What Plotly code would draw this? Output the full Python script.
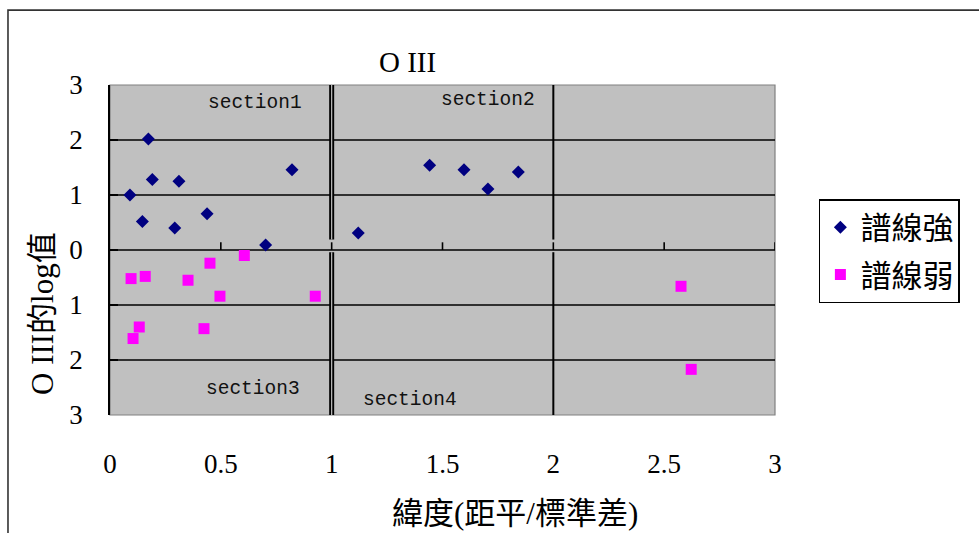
import plotly.graph_objects as go

# Strong-line stars (譜線強)
strong_x = [0.090, 0.146, 0.173, 0.191, 0.292, 0.311, 0.438, 0.702, 0.821, 1.120, 1.442, 1.597, 1.705, 1.842]
strong_y = [1.00, 0.52, 2.02, 1.28, 0.40, 1.25, 0.66, 0.09, 1.46, 0.31, 1.54, 1.46, 1.11, 1.42]

# Weak-line stars (譜線弱)
weak_x = [0.095, 0.159, 0.352, 0.451, 0.606, 0.496, 0.926, 0.132, 0.104, 0.424, 2.576, 2.622]
weak_y = [-0.52, -0.48, -0.55, -0.24, -0.10, -0.84, -0.84, -1.40, -1.61, -1.43, -0.66, -2.17]

y_ticks = [-3, -2, -1, 0, 1, 2, 3]
y_tick_text = [str(abs(v)) for v in y_ticks]
x_ticks = [0, 0.5, 1, 1.5, 2, 2.5, 3]
x_tick_text = ["0", "0.5", "1", "1.5", "2", "2.5", "3"]
grid_levels = [-2, -1, 1, 2]
section_dividers = [1, 2]

section_names = ["section1", "section2", "section3", "section4"]
section_x = [0.655, 1.704, 0.643, 1.354]
section_y = [2.67, 2.72, -2.53, -2.72]

SERIF = "Liberation Serif, Noto Sans CJK TC"
CJK = "Noto Sans CJK TC"

fig = go.Figure()
fig.add_trace(go.Scatter(
    x=strong_x, y=strong_y, mode="markers", name="譜線強", legendgroup="a",
    marker=dict(symbol="diamond", size=10, color="#000080", line=dict(width=0)),
))
fig.add_trace(go.Scatter(
    x=weak_x, y=weak_y, mode="markers", name="譜線弱", legendgroup="b",
    marker=dict(symbol="square", size=11, color="#FF00FF", line=dict(width=0)),
))

shapes = []
# horizontal grid lines
for lv in grid_levels:
    shapes.append(dict(type="line", xref="x", yref="y", x0=0, x1=3, y0=lv, y1=lv,
                       line=dict(color="black", width=1.6), layer="below"))
# zero axis line with upward tick marks
shapes.append(dict(type="line", xref="x", yref="y", x0=0, x1=3, y0=0, y1=0,
                   line=dict(color="black", width=1.6), layer="below"))
for tv in x_ticks[1:]:
    shapes.append(dict(type="line", xref="x", yref="y", x0=tv, x1=tv, y0=0, y1=0.14,
                       line=dict(color="black", width=1.6), layer="below"))
# section dividers: double line at the first, single at the second
for i, dv in enumerate(section_dividers):
    for y0, y1 in [(0.19, 3), (-3, -0.04)]:
        if i == 0:
            shapes.append(dict(type="line", xref="x", yref="y", x0=dv, x1=dv, y0=y0, y1=y1,
                               line=dict(color="black", width=5), layer="below"))
            shapes.append(dict(type="line", xref="x", yref="y", x0=dv, x1=dv, y0=y0, y1=y1,
                               line=dict(color="#c0c0c0", width=1.2), layer="below"))
        else:
            shapes.append(dict(type="line", xref="x", yref="y", x0=dv, x1=dv, y0=y0, y1=y1,
                               line=dict(color="black", width=2), layer="below"))
# plot-area border
shapes.append(dict(type="rect", xref="paper", yref="paper", x0=0, x1=1, y0=0, y1=1,
                   line=dict(color="#808080", width=1.2), layer="below"))
# outer chart frame (top and left edges visible)
shapes.append(dict(type="rect", xref="paper", yref="paper", x0=-0.1534, x1=1.5, y0=-0.6, y1=1.227,
                   line=dict(color="#333333", width=1.6), layer="below"))

annotations = []
for name, sx, sy in zip(section_names, section_x, section_y):
    annotations.append(dict(x=sx, y=sy, xref="x", yref="y", text=name, showarrow=False,
                            xanchor="center", yanchor="middle",
                            font=dict(family="Liberation Mono", size=19.5, color="#111111")))
annotations.append(dict(x=0.448, y=1.0697, xref="paper", yref="paper", text="O III",
                        xanchor="center", yanchor="middle", showarrow=False,
                        font=dict(family=SERIF, size=29, color="black")))
annotations.append(dict(x=-0.1023, y=0.309, xref="paper", yref="paper", text="O III的log值",
                        textangle=-90, xanchor="center", yanchor="middle", showarrow=False,
                        font=dict(family=SERIF, size=31, color="black")))
annotations.append(dict(x=0.609, y=-0.297, xref="paper", yref="paper", text="緯度(距平/標準差)",
                        xanchor="center", yanchor="middle", showarrow=False,
                        font=dict(family=SERIF, size=31, color="black")))

fig.update_layout(
    width=979, height=533,
    margin=dict(l=110, r=204, t=85, b=118, pad=0),
    paper_bgcolor="white", plot_bgcolor="#c0c0c0",
    showlegend=True,
    legend=dict(x=1.066, y=0.6545, xanchor="left", yanchor="top",
                bordercolor="black", borderwidth=1.5, bgcolor="white",
                font=dict(family=CJK, size=31, color="black"),
                traceorder="grouped", tracegroupgap=4),
    xaxis=dict(range=[0, 3], tickvals=x_ticks, ticktext=x_tick_text, showgrid=False,
               zeroline=False, showline=False, ticks="", ticklabelstandoff=30,
               tickfont=dict(family=SERIF, size=27, color="black"), fixedrange=True),
    yaxis=dict(range=[-3, 3], tickvals=y_ticks, ticktext=y_tick_text, showgrid=False,
               zeroline=False, showline=True, linecolor="black", linewidth=1.5,
               ticks="inside", ticklen=8, tickcolor="black", tickwidth=1.5,
               ticklabelstandoff=20,
               tickfont=dict(family=SERIF, size=27, color="black"), fixedrange=True),
    shapes=shapes, annotations=annotations,
)

fig.write_html("out.html")
